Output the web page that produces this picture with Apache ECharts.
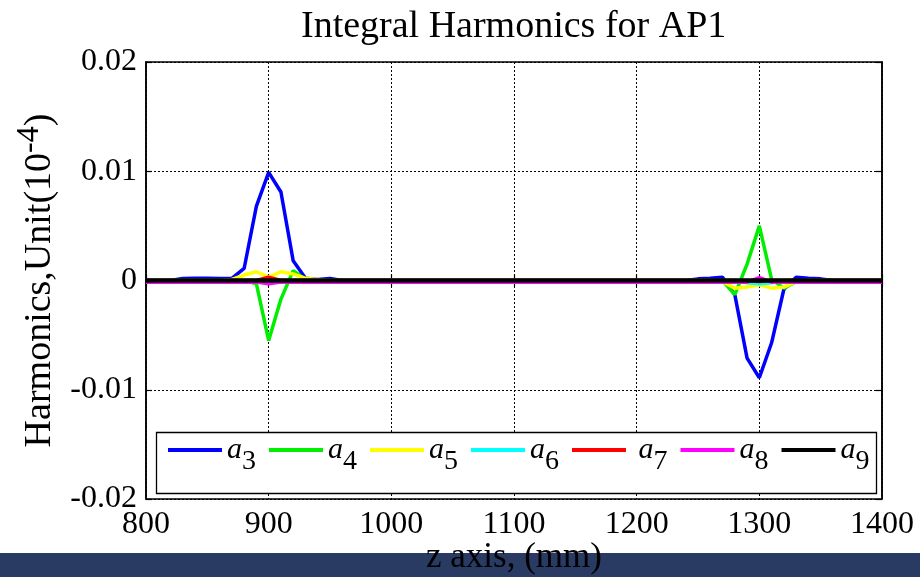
<!DOCTYPE html>
<html>
<head>
<meta charset="utf-8">
<script src="https://cdn.jsdelivr.net/npm/echarts@6/dist/echarts.min.js"></script>
<style>
  html, body { margin: 0; padding: 0; background: #fff; }
  #chart { width: 920px; height: 577px; }
</style>
</head>
<body>
<div id="chart"></div>
<script>
// z positions along the magnet (mm)
const zPos = [800, 810, 820, 830, 840, 850, 860, 870, 880, 890, 900, 910, 920, 930, 940, 950, 960, 970, 980,
              1100, 1240, 1250, 1260, 1270, 1280, 1290, 1300, 1310, 1320, 1330, 1340, 1350, 1360, 1400];

// integral harmonic components, one value per z position
const a3 = [0, 0, 0, 0.00018, 0.0002, 0.0002, 0.00018, 0.0002, 0.0011, 0.0068, 0.0099, 0.0081, 0.0018, 0.0002, 0.0001, 0.00018, 0, 0, 0,
            0, 0, 0.00015, 0.0002, 0.0003, -0.0013, -0.0071, -0.0089, -0.0057, -0.0008, 0.0003, 0.0002, 0.00015, 0, 0];
const a4 = [0, 0, 0, 0, 0, 0, 0, 0, 0, -0.0003, -0.0055, -0.0017, 0.0009, 0.0001, 0, 0, 0, 0, 0,
            0, 0, 0, 0, 0, -0.0013, 0.0015, 0.0050, 0.0001, -0.0007, -0.0001, 0, 0, 0, 0];
const a5 = [0, 0, 0, 0, 0, 0, 0, 0.0001, 0.0005, 0.0008, 0.0003, 0.0008, 0.0006, 0.0002, 0.0001, 0, 0, 0, 0,
            0, 0, 0, 0, -0.0001, -0.0007, -0.0006, -0.0004, -0.0007, -0.0006, -0.0001, 0, 0, 0, 0];
const a6 = [0, 0, 0, 0, 0, 0, 0, 0, 0, 0, 0.0001, 0, 0, 0, 0, 0, 0, 0, 0,
            0, 0, 0, 0, 0, 0, -0.0002, -0.0003, -0.0002, 0, 0, 0, 0, 0, 0];
const a7 = [0, 0, 0, 0, 0, 0, 0, 0, 0, 0, 0.0003, 0, 0, 0, 0, 0, 0, 0, 0,
            0, 0, 0, 0, 0, 0, 0, -0.0001, 0, 0, 0, 0, 0, 0, 0];
const a8 = [-0.00015, -0.00015, -0.00015, -0.00015, -0.00015, -0.00015, -0.00015, -0.00015, -0.00015, -0.00015, -0.0003, -0.00015, -0.00015, -0.00015, -0.00015, -0.00015, -0.00015, -0.00015, -0.00015,
            -0.00015, -0.00015, -0.00015, -0.00015, -0.00015, -0.00015, -0.00015, 0.00025, -0.00015, -0.00015, -0.00015, -0.00015, -0.00015, -0.00015, -0.00015];
const a9 = [0, 0, 0, 0, 0, 0, 0, 0, 0, 0, 0, 0, 0, 0, 0, 0, 0, 0, 0,
            0, 0, 0, 0, 0, 0, 0, 0, 0, 0, 0, 0, 0, 0, 0];

const seriesNames = ['a3', 'a4', 'a5', 'a6', 'a7', 'a8', 'a9'];
const seriesValues = [a3, a4, a5, a6, a7, a8, a9];
const seriesColors = ['#0000ff', '#00ee00', '#ffff00', '#00ffff', '#ff0000', '#ff00ff', '#000000'];

const xTicks = { min: 800, max: 1400, step: 100 };
const yTicks = { min: -0.02, max: 0.02, step: 0.01 };

const FONT = '"Liberation Serif", "Times New Roman", serif';

const chart = echarts.init(document.getElementById('chart'), null, { renderer: 'canvas' });

const gridBox = { left: 146, top: 62, width: 736, height: 437 };

const baseAxisX = {
  type: 'value', min: xTicks.min, max: xTicks.max, interval: xTicks.step,
  axisLine: { show: true, lineStyle: { color: '#000', width: 1.5 } },
  axisTick: { show: true, inside: true, length: 6, lineStyle: { color: '#000', width: 1.2 } }
};
const baseAxisY = {
  type: 'value', min: yTicks.min, max: yTicks.max, interval: yTicks.step,
  axisLine: { show: true, lineStyle: { color: '#000', width: 1.5 } },
  axisTick: { show: true, inside: true, length: 6, lineStyle: { color: '#000', width: 1.2 } }
};

const option = {
  animation: false,
  backgroundColor: '#ffffff',
  title: {
    text: 'Integral Harmonics for AP1',
    left: 296, top: 3,
    textStyle: { fontFamily: FONT, fontSize: 38, fontWeight: 'normal', color: '#000' }
  },
  grid: Object.assign({
    show: true, borderColor: '#000', borderWidth: 1.5, backgroundColor: '#fff',
    containLabel: false, outerBoundsMode: 'none'
  }, gridBox),
  xAxis: [
    Object.assign({}, baseAxisX, {
      position: 'bottom',
      axisLabel: {
        show: true, margin: 10, fontFamily: FONT, fontSize: 32, color: '#000',
        formatter: function (v) { return String(v); }
      },
      splitLine: { show: true, lineStyle: { color: '#000', width: 1, type: [2, 2] } }
    }),
    Object.assign({}, baseAxisX, {
      position: 'top',
      axisLabel: { show: false },
      splitLine: { show: false }
    })
  ],
  yAxis: [
    Object.assign({}, baseAxisY, {
      position: 'left',
      name: 'Harmonics,Unit(10{sup|-4})',
      nameLocation: 'middle',
      nameGap: 77,
      nameRotate: 90,
      nameTextStyle: {
        fontFamily: FONT, fontSize: 38, color: '#000',
        rich: { sup: { fontFamily: FONT, fontSize: 32, color: '#000', padding: [0, 0, 22, 0] } }
      },
      axisLabel: {
        show: true, margin: 9, fontFamily: FONT, fontSize: 32, color: '#000',
        formatter: function (v) { return String(+v.toFixed(2)); }
      },
      splitLine: { show: true, lineStyle: { color: '#000', width: 1, type: [2, 2] } }
    }),
    Object.assign({}, baseAxisY, {
      position: 'right',
      axisLabel: { show: false },
      splitLine: { show: false }
    })
  ],
  legend: {
    z: 10,
    left: 163, top: 430,
    padding: 5,
    orient: 'horizontal',
    icon: 'rect',
    itemWidth: 54, itemHeight: 4,
    itemGap: 13,
    data: seriesNames,
    formatter: function (name) {
      return '{a|' + (name === 'a7' ? ' ' : '') + 'a}{s|' + name.slice(1) + '}';
    },
    textStyle: {
      fontFamily: FONT, color: '#000',
      rich: {
        a: { fontFamily: FONT, fontSize: 30, fontStyle: 'italic', color: '#000' },
        s: { fontFamily: FONT, fontSize: 28, color: '#000', padding: [24, 0, 0, 0] }
      }
    }
  },
  graphic: [
    {
      type: 'rect', z: 5,
      shape: { x: 156.5, y: 432.5, width: 720, height: 61 },
      style: { fill: '#ffffff', stroke: '#000', lineWidth: 1.3 }
    },
    {
      type: 'rect', z: 5,
      shape: { x: 0, y: 553, width: 920, height: 24 },
      style: { fill: '#293a63' }
    },
    {
      type: 'text', z: 6,
      x: 514, y: 558,
      style: {
        text: 'z axis, (mm)',
        font: '35px "Liberation Serif", "Times New Roman", serif',
        fill: '#000', align: 'center', verticalAlign: 'middle'
      }
    }
  ],
  series: seriesNames.map(function (name, i) {
    return {
      name: name,
      type: 'line',
      xAxisIndex: 0, yAxisIndex: 0,
      showSymbol: false,
      symbol: 'none',
      clip: true,
      color: seriesColors[i],
      lineStyle: { color: seriesColors[i], width: name === 'a9' ? 4.5 : 3.5 },
      emphasis: { disabled: true },
      data: zPos.map(function (z, k) { return [z, seriesValues[i][k]]; })
    };
  })
};

chart.setOption(option);
</script>
</body>
</html>
